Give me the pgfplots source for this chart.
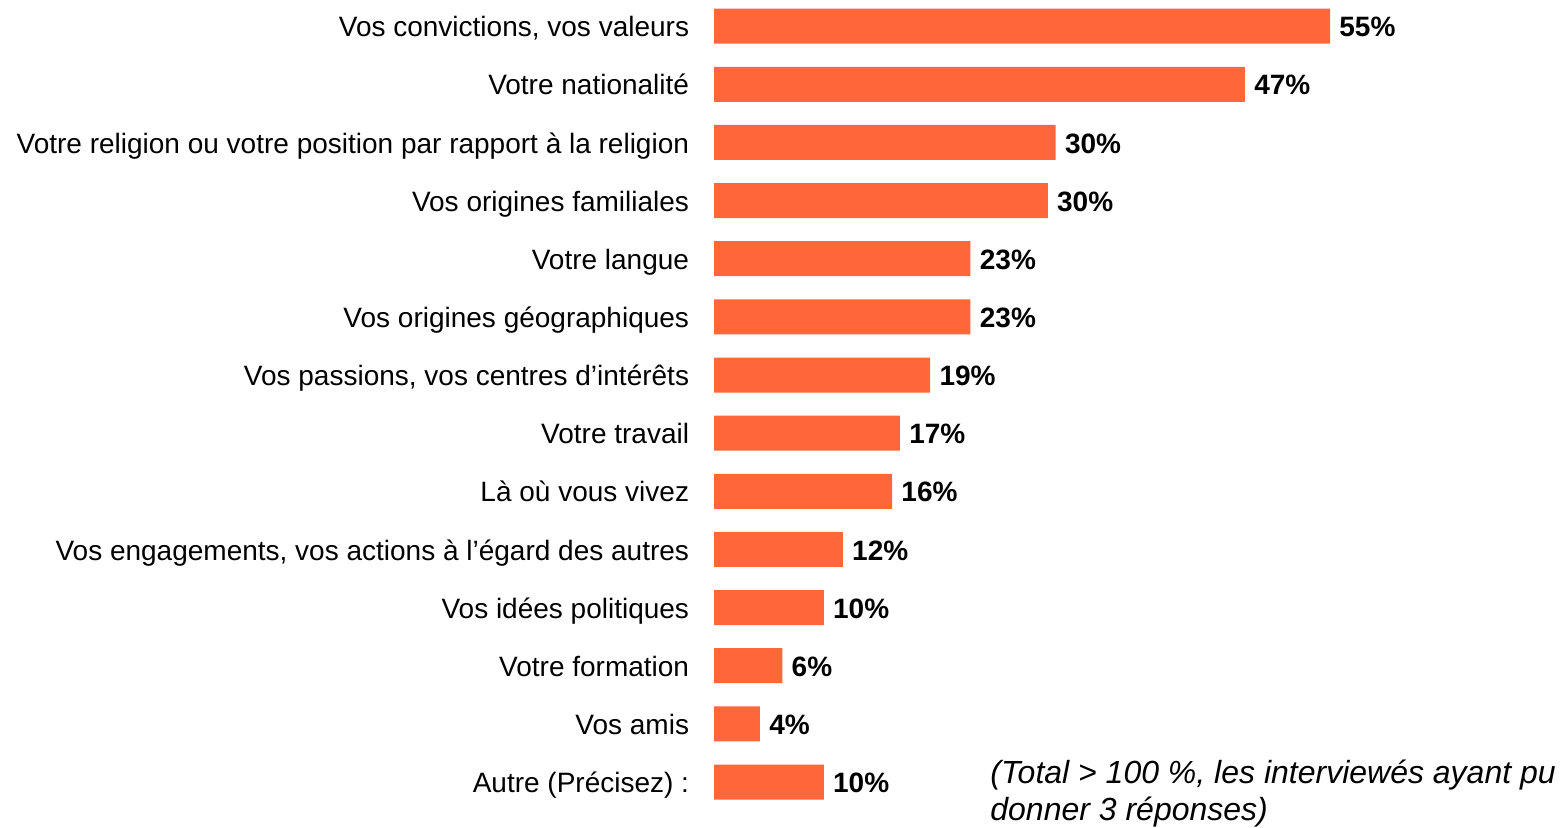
\documentclass[border=0pt]{standalone}
\usepackage{pgfplots}
\pgfplotsset{compat=1.18}
\usepackage{pgfplotstable}
\usepackage{fontspec}
\setmainfont{Liberation Sans}
\definecolor{barorange}{RGB}{255,102,58}
\pgfplotstableread{
y v lab
13 55.0 55
12 47.4 47
11 30.5 30
10 29.8 30
9 22.9 23
8 22.9 23
7 19.3 19
6 16.6 17
5 15.9 16
4 11.5 12
3 9.8 10
2 6.1 6
1 4.1 4
0 9.8 10
}\datatable
\begin{document}
\begin{tikzpicture}[x=1pt,y=1pt]
\begin{axis}[
  at={(357pt,8.45pt)}, anchor=south west,
  scale only axis,
  width=336pt, height=407pt,
  xmin=0, xmax=60,
  ymin=-0.5, ymax=13.5,
  xbar, bar width=17.5pt,
  axis line style={draw=none},
  tick style={draw=none},
  xtick=\empty,
  ytick={0,...,13},
  yticklabels={{Autre (Précisez) :},{Vos amis},{Votre formation},{Vos idées politiques},{Vos engagements, vos actions à l’égard des autres},{Là où vous vivez},{Votre travail},{Vos passions, vos centres d’intérêts},{Vos origines géographiques},{Votre langue},{Vos origines familiales},{Votre religion ou votre position par rapport à la religion},{Votre nationalité},{Vos convictions, vos valeurs}},
  yticklabel style={anchor=base east, inner sep=0pt, xshift=-8pt, yshift=-5.3pt, font=\fontsize{14pt}{16pt}\selectfont},
  nodes near coords={\pgfplotspointmeta\%},
  point meta=explicit symbolic,
  every node near coord/.append style={anchor=base west, inner sep=0pt, xshift=4.5pt, yshift=-5.3pt, font=\fontsize{14pt}{16pt}\selectfont\bfseries, text=black},
  clip=false,
]
\addplot[fill=barorange, draw=none] table[x=v, y=y, meta=lab] {\datatable};
\end{axis}
\node[anchor=base west, inner sep=0pt, font=\fontsize{16pt}{18pt}\selectfont\itshape] at (495pt,22pt) {(Total > 100 \%, les interviewés ayant pu};
\node[anchor=base west, inner sep=0pt, font=\fontsize{16pt}{18pt}\selectfont\itshape] at (495pt,3.5pt) {donner 3 réponses)};
\pgfresetboundingbox
\useasboundingbox (0,0) rectangle (783.5pt,414pt);
\end{tikzpicture}
\end{document}
